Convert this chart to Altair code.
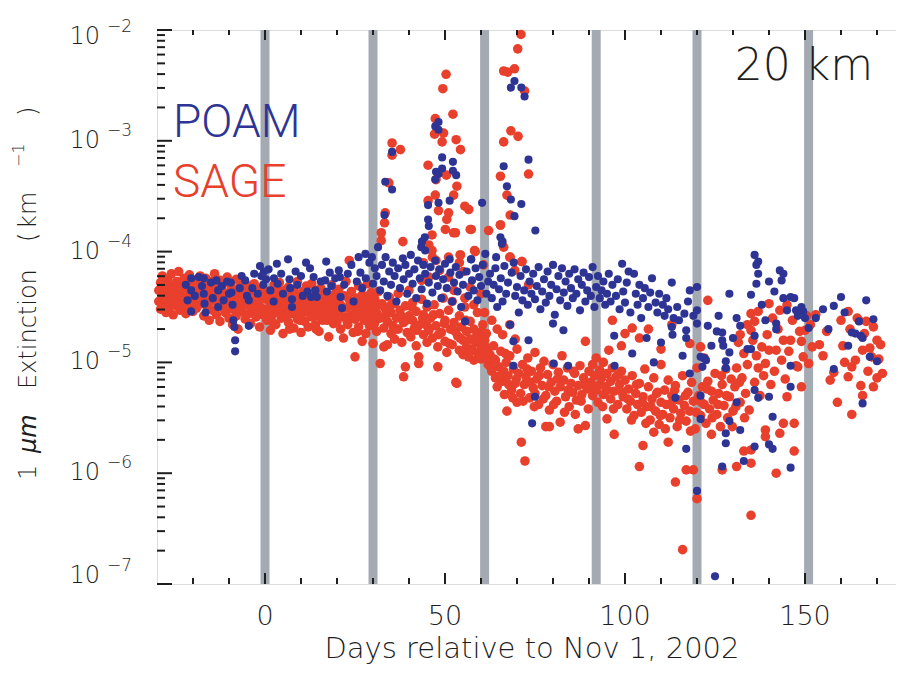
import altair as alt
import pandas as pd

# ---------------- data: (day relative to Nov 1 2002, log10 extinction km^-1) ----------------
SAGE_A = [(-29.5,-4.35),(-29.5,-4.45),(-29,-4.28),(-29,-4.52),(-28.5,-4.40),(-28.5,-4.22),(-28,-4.47),(-28,-4.33),
          (-27.5,-4.55),(-27.5,-4.38),(-27,-4.25),(-27,-4.43),(-26.5,-4.30),(-26.5,-4.50),(-26,-4.36),(-26,-4.20),
          (-25.5,-4.46),(-25.5,-4.57),(-25,-4.32),(-25,-4.41),(-24.5,-4.27),(-24.5,-4.49),(-24,-4.37),(-24,-4.18),
          (-23.5,-4.44),(-23.5,-4.53),(-23,-4.31),(-23,-4.40),(-22.5,-4.24),(-22.5,-4.48),(-22,-4.35),(-22,-4.56),
          (-21.5,-4.42),(-21.5,-4.29),(-21,-4.50),(-21,-4.21),(-20.5,-4.38),(-20.5,-4.46),(-20,-4.33),(-20,-4.54),
          (-19.5,-4.26),(-19.5,-4.43),(-19,-4.36),(-19,-4.51),(-18.5,-4.30),(-18.5,-4.45),(-18,-4.39),(-18,-4.22)]
SAGE_B = [(-17.5,-4.28),(-17.5,-4.47),(-17,-4.36),(-17,-4.58),(-16.5,-4.41),(-16.5,-4.24),(-16,-4.50),(-16,-4.33),
          (-15.5,-4.62),(-15.5,-4.39),(-15,-4.45),(-15,-4.27),(-14.5,-4.53),(-14.5,-4.35),(-14,-4.42),(-14,-4.20),
          (-13.5,-4.57),(-13.5,-4.31),(-13,-4.48),(-13,-4.38),(-12.5,-4.26),(-12.5,-4.63),(-12,-4.44),(-12,-4.34),
          (-11.5,-4.51),(-11.5,-4.29),(-11,-4.40),(-11,-4.55),(-10.5,-4.23),(-10.5,-4.46),(-10,-4.37),(-10,-4.60),
          (-9.5,-4.43),(-9.5,-4.30),(-9,-4.52),(-9,-4.66),(-8.5,-4.35),(-8.5,-4.47),(-8,-4.25),(-8,-4.58),
          (-7.5,-4.41),(-7.5,-4.70),(-7,-4.32),(-7,-4.49),(-6.5,-4.54),(-6.5,-4.38),(-6,-4.44),(-6,-4.27),
          (-5.5,-4.61),(-5.5,-4.36),(-5,-4.48),(-5,-4.40),(-4.5,-4.56),(-4.5,-4.31),(-4,-4.45),(-4,-4.65),
          (-3.5,-4.37),(-3.5,-4.52),(-3,-4.42),(-3,-4.29),(-2.5,-4.59),(-2.5,-4.47),(-2,-4.34),(-2,-4.55),
          (-1.5,-4.44),(-1.5,-4.68),(-1,-4.39),(-1,-4.51),(-0.5,-4.57),(-0.5,-4.33)]
SAGE_C = [(0.5,-4.43),(0.5,-4.62),(1,-4.36),(1,-4.54),(1.5,-4.48),(1.5,-4.71),(2,-4.40),(2,-4.57),(2.5,-4.30),
          (2.5,-4.50),(3,-4.45),(3,-4.66),(3.5,-4.38),(3.5,-4.55),(4,-4.47),(4,-4.28),(4.5,-4.60),(4.5,-4.42),
          (5,-4.52),(5,-4.74),(5.5,-4.35),(5.5,-4.48),(6,-4.58),(6,-4.44),(6.5,-4.32),(6.5,-4.64),(7,-4.50),
          (7,-4.39),(7.5,-4.56),(7.5,-4.46),(8,-4.69),(8,-4.34),(8.5,-4.53),(8.5,-4.43),(9,-4.61),(9,-4.27),
          (9.5,-4.49),(9.5,-4.40),(10,-4.57),(10,-4.73),(10.5,-4.45),(10.5,-4.36),(11,-4.63),(11,-4.51),
          (11.5,-4.42),(11.5,-4.31),(12,-4.55),(12,-4.68),(12.5,-4.47),(12.5,-4.38),(13,-4.59),(13,-4.29),
          (13.5,-4.52),(13.5,-4.44),(14,-4.66),(14,-4.35),(14.5,-4.49),(14.5,-4.58),(15,-4.41),(15,-4.72),
          (15.5,-4.54),(15.5,-4.33),(16,-4.46),(16,-4.62),(16.5,-4.39),(16.5,-4.56),(17,-4.50),(17.7,-4.77),
          (18,-4.43),(18,-4.60),(18.5,-4.30),(18.5,-4.53),(19,-4.65),(19,-4.47),(19.5,-4.38),(19.5,-4.57)]
SAGE_D = [(20,-4.45),(20,-4.63),(20.5,-4.34),(20.5,-4.55),(21,-4.70),(21,-4.48),(21.8,-4.78),(22,-4.40),
          (22,-4.59),(22.5,-4.27),(22.5,-4.51),(23,-4.66),(23.4,-4.08),(23.5,-4.44),(24,-4.57),(24,-4.36),
          (24.5,-4.73),(24.5,-4.49),(25,-4.95),(25,-4.61),(25.5,-4.42),(25.5,-4.53),(26,-4.68),(26,-4.31),
          (26.5,-4.58),(26.5,-4.46),(27,-4.81),(27,-4.39),(27.5,-4.62),(27.5,-4.52),(28,-4.74),(28,-4.44),
          (28.5,-4.56),(28.5,-4.29),(29,-4.67),(29,-4.48),(29.5,-4.60),(29.5,-4.37),(30,-4.83),(30,-4.50),
          (30.5,-4.64),(30.5,-4.43),(31,-4.72),(31,-4.55),(31.5,-4.36),(32,-5.01),(32,-4.60),(32.5,-4.47),
          (33,-4.86),(33,-4.69)]
SAGE_E = [(33.5,-4.52),(34,-4.84),(34,-4.63),(34.5,-4.41),(35,-4.74),(35,-4.55),(35.5,-4.67),(36,-4.47),
          (36,-4.79),(36.5,-4.60),(37,-4.38),(37,-4.70),(37.5,-4.53),(38,-4.82),(38.5,-5.13),(38.5,-4.64),
          (39,-5.04),(39,-4.49),(39.5,-4.73),(40,-4.58),(40,-4.35),(40.5,-4.77),(41,-4.62),(41,-4.46),
          (41.5,-4.69),(42,-4.54),(42,-4.85),(42.7,-4.95),(42.7,-5.01),(43,-4.66),(43.5,-4.43),(44,-4.75),
          (44,-4.57),(44.5,-4.64),(45,-4.82),(45,-4.50),(45.5,-4.71),(46,-4.60)]
SAGE_F = [(46.5,-4.78),(47,-4.48),(47.5,-4.67),(48,-5.04),(48,-4.86),(48.5,-4.56),(49,-4.73),(49.5,-4.42),
          (50,-4.81),(50,-4.62),(50.5,-4.91),(51,-4.53),(51.5,-4.70),(52,-4.84),(52,-4.45),(52.5,-4.64),
          (53,-5.18),(53.3,-5.19),(53.5,-4.76),(54,-4.89),(54,-4.58),(54.5,-4.68),(55,-4.80),(55,-4.93),
          (55.5,-4.50),(56,-4.72),(56,-4.86),(56.5,-4.95),(57,-4.63),(57,-4.79),(57.5,-4.88),(58,-4.70),
          (58,-4.98),(58.5,-4.82),(59,-4.55),(59,-4.91),(59.5,-4.76),(60,-4.85),(60,-4.97),(60.5,-4.66),
          (61,-4.80),(61,-4.92),(61.5,-4.74),(62,-4.87),(62,-5.02)]
SAGE_G = [(62.5,-4.93),(63,-5.08),(63,-4.62),(63.5,-4.85),(64,-5.14),(64,-4.98),(64.5,-5.22),(64.5,-4.70),
          (65,-5.04),(65.5,-4.90),(66,-5.17),(66,-4.75),(66.3,-5.08),(66.5,-5.29),(67,-5.00),(67.2,-5.44),
          (67.5,-5.12),(68,-4.94),(68,-4.66),(68.5,-5.25),(69,-5.06),(69.5,-5.19),(69.5,-4.79),(70,-5.36),
          (70,-4.88),(70.5,-5.10),(71,-5.28),(71.2,-5.72),(71.5,-5.02),(72,-5.20),(72.2,-5.89),(72.5,-5.13),
          (73,-4.96),(73.5,-5.32),(74,-5.08),(74.5,-5.23),(75,-5.28),(75,-4.91),(75.5,-5.15),(76,-5.38),
          (76.5,-5.05),(77,-5.21),(77.5,-4.99),(78,-5.58),(78,-5.30),(78.5,-5.11),(79,-5.43),(79,-5.58),
          (79.5,-5.18),(80,-5.02),(80.5,-5.26),(81,-5.35),(81.5,-5.09),(82,-5.54),(82,-5.22),(82.5,-4.94),
          (83,-5.16),(83.5,-5.31),(84,-5.05),(84.5,-5.40),(85,-5.19),(85.5,-5.27),(86,-5.10),(86.5,-5.34),
          (87,-5.60),(87,-5.21),(87.5,-5.03),(88,-5.29),(88.5,-5.14),(89,-5.57),(89,-4.81),(89.5,-5.24),
          (90,-5.08)]
SAGE_H = [(90.5,-5.18),(91,-5.30),(91,-5.02),(91.5,-5.12),(92,-5.25),(92,-4.96),(92.5,-5.36),(93,-5.07),
          (93,-5.20),(93.5,-5.14),(94,-5.29),(94,-5.00),(94.5,-5.22),(95,-5.51),(95,-5.10),(95.5,-4.89),
          (96,-5.33),(96,-5.17),(96.5,-5.05),(96.5,-4.62),(97,-5.65),(97,-5.26),(97.5,-5.13),(98,-5.38),
          (98.5,-5.20),(99,-5.08),(99,-4.85),(99.5,-5.31),(100,-4.74),(100,-5.16)]
SAGE_I = [(100.5,-5.42),(101,-5.24),(101.5,-5.35),(102,-4.69),(102,-5.12),(102.5,-5.48),(103,-5.28),
          (103.5,-5.38),(104,-5.94),(104,-5.19),(104,-4.78),(104.5,-5.45),(105,-5.75),(105,-5.31),(105.5,-5.06),
          (106,-5.40),(106.5,-5.22),(106.5,-4.70),(107,-5.52),(107.5,-5.33),(108,-5.63),(108,-5.14),
          (108.5,-5.44),(109,-5.27),(109.5,-5.56),(110,-5.36),(110,-5.02),(110,-4.88),(110.5,-5.47),(111,-5.25),
          (111.5,-5.38),(112,-5.72),(112,-5.16),(112.5,-5.50),(113,-5.30),(113,-4.66),(113.5,-5.42),(114,-6.08),
          (114,-5.21),(114.5,-5.58),(115,-5.34),(115.5,-5.46),(116,-6.69),(116,-5.12),(116.5,-5.39),(117,-5.97),
          (117,-5.53),(117.5,-5.27),(118,-4.83),(118,-5.44),(118.5,-5.18),(119,-5.97),(119,-5.35),(119.5,-5.60),
          (120,-6.23),(120,-5.05),(120.5,-5.30),(121,-4.86),(121,-5.48),(121.5,-5.22),(122,-5.38),(122,-4.96),
          (122.5,-5.55),(123,-4.44),(123,-5.17),(123.5,-5.42),(124,-5.26),(124,-5.65),(124.5,-5.34),(125,-5.10),
          (125.5,-5.47),(126,-5.28),(126.5,-5.58),(127,-5.97),(127,-5.20),(127.5,-5.39),(128,-5.06),(128.5,-5.50),
          (129,-5.31),(129.5,-5.15),(130,-5.44)]
SAGE_J = [(130.5,-5.22),(131,-5.94),(131,-5.05),(131.5,-4.82),(132,-4.75),(132,-5.36),(132.5,-5.14),(133,-5.80),
          (133,-4.92),(133.5,-5.28),(134,-4.66),(134,-5.02),(134.5,-5.43),(135,-4.56),(135,-4.71),(135,-5.79),
          (135,-5.91),(135,-6.38),(135.5,-4.80),(136,-4.63),(136,-5.18),(136.5,-4.94),(137,-4.54),(137,-5.05),
          (137.5,-5.30),(138,-4.86),(138.5,-5.12),(139,-5.01),(139,-5.61),(139,-5.67),(139.5,-4.75),(140,-4.47),
          (140,-4.89),(140.5,-5.20),(141,-4.60),(141.5,-5.08),(142,-4.89),(142,-6.00),(142.5,-4.70),(143,-4.53),
          (143,-5.64),(143.5,-4.98),(144,-4.80),(144,-5.55),(144.5,-5.15),(145,-4.48),(145,-5.31),(145.5,-4.90),
          (146,-4.80),(146.5,-4.62),(147,-5.55),(147,-5.80),(147.5,-5.03),(148,-5.04),(148.5,-4.72),(149,-4.81),
          (149,-5.22),(149.5,-4.95),(150,-4.71),(150.5,-4.58)]
SAGE_K = [(151,-5.01),(151.5,-4.66),(152,-4.86),(153,-4.57),(154,-4.84),(155,-4.94),(156,-4.72),(157,-5.16),
          (158,-5.09),(159,-5.36),(160,-4.62),(160.5,-4.85),(161,-5.00),(162,-4.54),(162,-5.13),(162.5,-4.70),
          (163,-5.04),(163,-5.47),(164,-4.98),(164.5,-4.60),(165,-4.62),(165.5,-5.21),(166,-5.30),(166,-4.89),
          (166.5,-4.74),(167,-4.63),(167.5,-5.08),(168,-4.87),(168.5,-4.95),(169,-4.68),(169,-5.22),(170,-5.14),
          (170,-4.80),(170.5,-4.97),(171,-4.84),(171.5,-5.10)]
SAGE_FILL = [(62.8,-5.05),(63.7,-4.97),(65.2,-5.12),(66.8,-4.92),(67.7,-5.20),(68.8,-5.32),(69.8,-5.15),
             (71.7,-5.35),(72.8,-5.06),(73.7,-5.18),(74.8,-5.40),(76.2,-5.12),(77.3,-5.33),(78.8,-5.22),
             (80.2,-5.38),(81.2,-5.15),(83.2,-5.45),(84.2,-5.25),(85.7,-5.08),(86.2,-5.47),(87.8,-5.35),
             (88.7,-5.20),(89.8,-5.42),(91.3,-5.22),(92.8,-5.10),(93.8,-5.40),(95.2,-5.25),(96.8,-5.42),
             (98.2,-5.11),(99.2,-5.27),(100.8,-5.33),(101.8,-5.52),(103.2,-5.20),(104.8,-5.36),(105.8,-5.55),
             (107.2,-5.40),(108.8,-5.28),(109.8,-5.48),(111.2,-5.60),(112.8,-5.37),(113.8,-5.25),(115.2,-5.52),
             (116.8,-5.30),(118.2,-5.62),(119.8,-5.45),(121.2,-5.36),(122.8,-5.24),(124.2,-5.50),(125.8,-5.38),
             (126.8,-5.12),(128.2,-5.30),(129.8,-5.58),(130.8,-5.40),(131.8,-5.18),(133.2,-5.50),
             (0.8,-4.52),(2.2,-4.64),(3.8,-4.35),(5.2,-4.58),(6.8,-4.70),(8.2,-4.47),(9.8,-4.62),(11.2,-4.37),
             (12.8,-4.51),(14.2,-4.70),(15.8,-4.45),(17.2,-4.62),(18.8,-4.40),(20.2,-4.52),(22.8,-4.63),
             (24.2,-4.45),(25.8,-4.72),(27.2,-4.56),(28.8,-4.40),(30.2,-4.67),(31.8,-4.48),(33.2,-4.58),
             (34.8,-4.49),(36.2,-4.70),(37.8,-4.58),(39.2,-4.62),(40.8,-4.50),(42.2,-4.71),(43.8,-4.60),
             (45.2,-4.68),(46.8,-4.57),(48.2,-4.75),(49.8,-4.65),(51.2,-4.83),(52.8,-4.72),(54.2,-4.78),
             (55.8,-4.62),(57.2,-4.90),(58.8,-4.76),(60.2,-4.72),(61.8,-4.95)]
SAGE_SPIKE = [(71.1,-2.04),(70.2,-2.17),(66.3,-2.37),(67.4,-2.38),(69.3,-2.35),(72.1,-2.55),(68.3,-2.91),
              (70.3,-2.96),(66.3,-3.01),(73.2,-3.30),(65.4,-3.32),(67.2,-3.49),(68.1,-3.67),(65.4,-3.76),
              (66.3,-3.96),(68,-4.05),(71.4,-4.09),(50.3,-2.40),(49.4,-2.53),(52.2,-2.76),(47.3,-2.80),
              (47.1,-2.94),(49.6,-2.93),(53.1,-2.99),(54.3,-3.08),(49.2,-3.01),(45.3,-3.22),(48.1,-3.29),
              (50.4,-3.31),(47.5,-3.35),(53.3,-3.41),(52.4,-3.49),(47.3,-3.49),(45.3,-3.54),(55.5,-3.59),
              (56.6,-3.62),(48.2,-3.63),(51,-3.65),(50.5,-3.71),(57.3,-3.80),(62.1,-3.81),(50.1,-3.80),
              (52.4,-3.83),(46.4,-3.85),(45.5,-3.94),(46.4,-3.99),(58.2,-3.99),(38.3,-3.91),(35.3,-3.02),
              (37.6,-3.08),(35.3,-3.13),(34.4,-3.38),(33.4,-3.65),(33.2,-3.74),(32.3,-3.83),(32.3,-3.90),
              (54.3,-4.03),(51,-4.05),(52.9,-3.83),(57,-3.80),(65.4,-3.76),(54.2,-4.03),(58.4,-4.00),
              (60.7,-4.12),(68.1,-4.05),(71.3,-4.09),(69.4,-4.17),(73.2,-4.30)]
SAGE_TRANS = [(44,-4.10),(43.5,-4.26),(45.5,-4.23),(46.5,-4.05),(47.5,-4.08),(48.5,-4.17),(51,-4.23),
              (54,-4.10),(55,-4.18),(57,-4.32),(52.5,-4.35),(55.5,-4.42),(58,-4.48),(60,-4.38),(61,-4.55)]

POAM_A = [(-22,-4.30),(-21.5,-4.44),(-20.5,-4.24),(-20.5,-4.35),(-20.5,-4.54),(-19.5,-4.40),(-18.4,-4.23),
          (-17.5,-4.31),(-17,-4.24),(-17,-4.38),(-16.8,-4.47),(-16.5,-4.55),(-15,-4.28),(-14.5,-4.42),
          (-13.5,-4.26),(-13,-4.35),(-13,-4.50),(-12,-4.31),(-11.5,-4.44),(-10.5,-4.27),(-10,-4.38),(-9.5,-4.28),
          (-9.3,-4.37),(-9,-4.48),(-8.8,-4.62),(-8.5,-4.68),(-8.3,-4.80),(-8.3,-4.90),(-7,-4.33),(-6.5,-4.22),
          (-5.5,-4.26),(-5,-4.40),(-4.5,-4.44),(-4.5,-4.67),(-3.5,-4.33),(-3,-4.20),(-2,-4.38),(-1.4,-4.13),
          (-1,-4.22),(-0.3,-4.18),(-0.5,-4.30),(0.3,-4.25)]
POAM_B = [(1,-4.16),(1.5,-4.35),(2.4,-4.45),(2.5,-4.24),(3.3,-4.11),(3.5,-4.29),(4.5,-4.20),(5,-4.38),
          (6.4,-4.07),(6.8,-4.25),(7,-4.33),(7.5,-4.43),(7.5,-4.50),(8.5,-4.18),(9,-4.30),(10,-4.22),
          (10.5,-4.40),(11.4,-4.10),(11.8,-4.36),(12.5,-4.15),(12.8,-4.41),(13.5,-4.23),(14,-4.35),(14.4,-4.41),
          (15.5,-4.27),(16.7,-4.26),(17,-4.09),(17.2,-4.36),(18,-4.19),(18.5,-4.31),(19.5,-4.24),(20.5,-4.17),
          (20.8,-4.23),(21,-4.41),(21.4,-4.51),(22,-4.30),(23,-4.20),(24,-4.12),(24.6,-4.45),(25.5,-4.27),
          (26,-4.05),(26.5,-4.19),(27,-4.33),(27.9,-4.02),(28,-4.24),(29,-4.10),(29.7,-4.05),(30,-4.29),
          (30.5,-4.15)]
POAM_C = [(31,-4.22),(31.4,-3.96),(32,-4.35),(32.5,-4.12),(33,-4.27),(33.5,-4.05),(34,-4.40),(34.5,-4.18),
          (35,-4.30),(35.5,-4.10),(36,-4.22),(36.5,-4.45),(37,-4.15),(37.5,-4.33),(38.3,-4.06),(38.5,-4.25),
          (39,-4.12),(39.5,-4.38),(40,-4.20),(40.5,-4.03),(41,-4.29),(41.5,-4.16),(42,-4.42),(42.5,-4.08),
          (43,-4.24),(43.5,-4.34),(44,-4.12),(44.5,-4.20),(45,-4.47),(45.5,-4.28),(46,-4.14),(46.5,-4.37),
          (47.3,-4.08),(47.5,-4.22),(48,-4.31),(48.5,-4.16),(49,-4.42),(49.5,-4.25),(50,-4.11),(50.5,-4.33),
          (51.3,-4.07),(51.5,-4.19),(52,-4.45),(52.5,-4.28),(53,-4.14),(53.5,-4.36),(54,-4.21),(54.5,-4.50),
          (55,-4.30),(55.6,-4.63),(56,-4.18),(56.5,-4.40),(57.2,-4.07),(57.5,-4.26),(58,-4.35),(58.5,-4.15),
          (59,-4.44),(59.5,-4.23),(60,-4.31),(60.5,-4.12),(61.2,-4.02),(61.5,-4.38),(62,-4.27)]
POAM_D = [(62.5,-4.20),(63,-4.42),(63.5,-4.30),(64,-4.15),(64.5,-4.50),(65,-4.34),(65.5,-4.24),(66,-4.45),
          (66.5,-4.13),(67,-4.38),(67.5,-4.28),(68.1,-4.66),(68.5,-4.19),(69,-4.81),(69,-5.03),(69.5,-4.40),
          (70,-4.32),(70.5,-4.55),(71,-4.22),(71.5,-4.44),(72,-4.35),(72.5,-4.16),(73,-4.48),(73.2,-4.80),
          (73.5,-4.27),(74,-4.38),(74.2,-5.55),(74.5,-4.20),(75,-5.31),(75,-4.43),(75.5,-4.31),(76,-4.14),
          (76.5,-4.52),(77,-4.36),(77.5,-4.25),(78,-4.46),(78.5,-4.18),(79,-4.40),(79.5,-4.30),(80,-4.12),
          (80.2,-5.01),(80.5,-4.57),(80,-4.65),(81,-4.34),(81.5,-4.22),(82,-4.44),(82.5,-4.15),(82.9,-4.71),
          (83,-4.37),(83.5,-4.27),(84,-4.49),(84.2,-5.03),(84.5,-4.20),(85,-4.33),(85.5,-4.42),(86,-4.16),
          (86.5,-4.38),(87,-4.25),(87.5,-4.53),(88,-4.30),(88.5,-4.19),(89,-4.45),(89.5,-4.35),(90,-4.23),
          (90.5,-4.40),(91,-4.14),(91.5,-4.50),(92,-4.32)]
POAM_E = [(92.5,-4.22),(93,-4.42),(93.5,-4.35),(94,-4.27),(94.5,-4.48),(95,-4.38),(95.5,-4.20),(96,-4.45),
          (96.5,-4.30),(97,-4.76),(97.1,-5.03),(97.5,-4.40),(98,-4.25),(98.5,-4.52),(99.2,-4.11),(99.5,-4.36),
          (100,-4.46),(100.5,-4.28),(101,-4.18),(101.5,-4.55),(102,-4.92),(102.5,-4.20),(103,-4.38),(103.5,-4.48),
          (104,-4.30),(104.5,-4.60),(105,-4.42),(105.5,-4.33),(106,-4.78),(106.5,-4.50),(107,-4.37),(107.5,-4.24),
          (108,-5.00),(108.5,-4.46),(109,-4.55),(109.5,-4.38),(110,-4.82),(110.5,-4.48),(111,-4.58),(111.5,-4.42),
          (112,-4.52),(113,-4.28),(113,-4.68),(113.2,-4.75),(113.5,-4.60),(114,-5.32),(114.5,-4.50),(115,-4.62),
          (116,-4.94),(116.5,-4.56),(117,-4.71),(117,-4.78),(117,-5.78),(117.5,-4.45),(118,-4.35),(118,-5.10),
          (119,-4.58),(120,-4.32),(120,-4.53),(120,-4.65),(120,-6.16)]
POAM_F = [(121,-4.95),(121,-5.30),(121,-5.51),(122,-4.96),(122.5,-4.98),(121.5,-5.04),(123,-4.67),(124,-4.85),
          (125,-6.93),(125.5,-4.72),(126,-4.58),(127,-4.73),(127,-4.80),(127,-5.94),(127.3,-4.85),(128,-4.99),
          (128,-5.05),(128,-5.64),(128,-5.73),(129,-4.91),(129,-4.38),(129,-5.53),(130,-4.78),(131,-4.60),
          (131,-5.36),(132,-4.67),(132,-5.61),(133,-5.89),(134,-4.88),(135,-4.39),(135,-4.88),(136,-4.76),
          (136,-5.25),(136,-5.76),(136,-4.03),(136.5,-4.12),(136.5,-4.29),(137,-4.20),(137,-4.09),(137,-5.32),
          (138,-4.48),(139,-4.62),(140,-4.27),(140,-5.31),(140,-5.74),(141,-5.49),(141,-5.78),(141.5,-4.36),
          (142,-4.65),(142,-4.70),(143,-4.17),(143.5,-4.26),(144,-4.20),(144,-4.42),(145,-4.53),(146,-4.41),
          (146,-5.03),(146,-5.22),(146,-5.95),(147,-4.42),(147.5,-4.53),(148,-4.58),(149,-4.50),(149.5,-4.54),
          (150,-4.60),(151,-4.69)]
POAM_G = [(155,-4.52),(158,-4.49),(160,-4.41),(163,-4.73),(164,-4.74),(165,-4.63),(165.5,-4.76),(166,-4.78),
          (167,-4.44),(168,-4.95),(169,-4.61),(170,-4.99),(158,-5.06),(166,-5.37),(153,-4.60),(156.5,-4.70),
          (161,-4.55),(162,-4.85)]
POAM_SPIKE = [(69.3,-2.46),(68.3,-2.52),(71.2,-2.52),(72.1,-2.60),(73.2,-3.17),(66.3,-3.23),(67.2,-3.41),
              (68.3,-3.53),(71.2,-3.57),(69.3,-3.68),(75.1,-3.81),(60.3,-3.56),(65.4,-3.87),(66,-3.91),
              (48.2,-2.83),(47.3,-2.87),(48.2,-2.90),(49.2,-3.15),(52.2,-3.19),(53.1,-3.31),(52.2,-3.27),
              (49.2,-3.25),(48.2,-3.30),(47.3,-3.35),(47.5,-3.28),(35.3,-3.10),(33.4,-3.37),(35.3,-3.44),
              (45.3,-3.58),(48.2,-3.56),(51.3,-3.54),(33.2,-3.67),(45.3,-3.71),(45.5,-3.77),(44.4,-3.87),
              (43.6,-3.91),(43.4,-3.96),(44.5,-3.99),(65.8,-3.93),(69.1,-4.10),(64.2,-4.05),(57.3,-4.07)]

MONTH_STARTS = [0, 30, 61, 92, 120, 151]
X_MAJOR = [0, 50, 100, 150]
X_MINOR = [-20, -10, 10, 20, 30, 40, 60, 70, 80, 90, 110, 120, 130, 140, 160, 170]
Y_EXP = [-2, -3, -4, -5, -6, -7]
Y_MULT = [2, 3, 4, 5, 6, 7, 8, 9]

# ---------------- frames ----------------
sage = pd.DataFrame(SAGE_A + SAGE_B + SAGE_C + SAGE_D + SAGE_E + SAGE_F + SAGE_G + SAGE_H
                    + SAGE_I + SAGE_J + SAGE_K + SAGE_FILL + SAGE_SPIKE + SAGE_TRANS, columns=["day", "lg"])
poam = pd.DataFrame(POAM_A + POAM_B + POAM_C + POAM_D + POAM_E + POAM_F + POAM_G + POAM_SPIKE,
                    columns=["day", "lg"])
months = pd.DataFrame({"d": MONTH_STARTS})
xmaj = pd.DataFrame({"d": X_MAJOR})
xmin = pd.DataFrame({"d": X_MINOR})
yexp = pd.DataFrame({"e": Y_EXP})
ymaj = pd.DataFrame({"v": [10.0 ** e for e in Y_EXP]})
ymin = pd.DataFrame({"v": [m * 10.0 ** e for e in Y_EXP[1:] for m in Y_MULT]})

W, H = 756, 554
FONT = "DejaVu Sans"
FW = 200
INK = "#1e1e1e"
BLUE = "#2E3494"
RED = "#E8402C"
xs = alt.Scale(domain=[-30, 180], nice=False, zero=False)
ys = alt.Scale(type="log", domain=[1e-7, 1e-2], nice=False)

X = lambda f: alt.X(f, scale=xs, axis=None)
Y = lambda f: alt.Y(f, scale=ys, axis=None)

bars = alt.Chart(months).mark_rule(strokeWidth=9, color="#A4AAB1").encode(x=X("d:Q"))

pts_sage = (alt.Chart(sage).transform_calculate(ext="pow(10, datum.lg)")
            .mark_circle(size=92, color=RED, opacity=1).encode(x=X("day:Q"), y=Y("ext:Q")))
pts_poam = (alt.Chart(poam).transform_calculate(ext="pow(10, datum.lg)")
            .mark_circle(size=66, color=BLUE, opacity=1).encode(x=X("day:Q"), y=Y("ext:Q")))

tk = dict(strokeWidth=2, color=INK)
ticks = [
    alt.Chart(ymaj).mark_rule(**tk).encode(y=Y("v:Q"), x=alt.value(0), x2=alt.value(15)),
    alt.Chart(ymin).mark_rule(**tk).encode(y=Y("v:Q"), x=alt.value(0), x2=alt.value(8)),
    alt.Chart(ymaj).mark_rule(**tk).encode(y=Y("v:Q"), x=alt.value(W), x2=alt.value(W - 15)),
    alt.Chart(ymin).mark_rule(**tk).encode(y=Y("v:Q"), x=alt.value(W), x2=alt.value(W - 8)),
    alt.Chart(xmaj).mark_rule(**tk).encode(x=X("d:Q"), y=alt.value(H), y2=alt.value(H - 11)),
    alt.Chart(xmin).mark_rule(**tk).encode(x=X("d:Q"), y=alt.value(H), y2=alt.value(H - 6)),
    alt.Chart(xmaj).mark_rule(**tk).encode(x=X("d:Q"), y=alt.value(0), y2=alt.value(10)),
    alt.Chart(xmin).mark_rule(**tk).encode(x=X("d:Q"), y=alt.value(0), y2=alt.value(5)),
]


def ylabels(expr, dy):
    base = (alt.Chart(yexp).transform_filter(expr)
            .transform_calculate(v="pow(10, datum.e)", lab="'\u2212' + (-datum.e)"))
    ten = base.mark_text(text="10", align="right", baseline="middle", font=FONT, fontWeight=FW,
                         fontSize=24, color=INK, dy=dy).encode(x=alt.value(-57), y=Y("v:Q"))
    ex = base.mark_text(align="left", baseline="middle", font=FONT, fontWeight=FW, fontSize=17,
                        color=INK, dy=dy - 10).encode(x=alt.value(-50), y=Y("v:Q"), text="lab:N")
    return [ten, ex]


ylabs = (ylabels("datum.e == -2", 7) + ylabels("datum.e < -2 && datum.e > -7", 0)
         + ylabels("datum.e == -7", -8))

xlabs = (alt.Chart(xmaj).transform_calculate(lab="'' + datum.d")
         .mark_text(baseline="middle", font=FONT, fontWeight=FW, fontSize=27, color=INK)
         .encode(x=X("d:Q"), y=alt.value(H + 33), text="lab:N"))


def txt(s, x, y, **kw):
    opts = dict(font=FONT, fontWeight=FW, color=INK)
    opts.update(kw)
    return alt.Chart(xmaj).transform_filter("datum.d == 0").mark_text(text=s, **opts).encode(
        x=alt.value(x), y=alt.value(y))


rot = dict(angle=270, align="left", baseline="middle")
annots = [
    txt("Days relative to Nov 1, 2002", 375, 628, fontSize=29, baseline="alphabetic", align="center"),
    txt("1", -128, 450, fontSize=24, **rot),
    txt("\u03bcm", -128, 423, fontSize=24, fontStyle="italic", **rot),
    txt("Extinction", -128, 359, fontSize=24, **rot),
    txt("(", -128, 212, fontSize=24, **rot),
    txt("km", -128, 199, fontSize=24, **rot),
    txt("\u22121", -138, 137, fontSize=16, **rot),
    txt(")", -128, 86, fontSize=24, **rot),
    txt("20 km", 716, 50, fontSize=44, align="right", baseline="alphabetic"),
    txt("POAM", 16, 107, fontSize=46, align="left", baseline="alphabetic", color=BLUE,
        font="Roboto", fontWeight=300),
    txt("SAGE", 16, 167, fontSize=46, align="left", baseline="alphabetic", color=RED,
        font="Roboto", fontWeight=300),
]

chart = (alt.layer(bars, pts_sage, pts_poam, *ticks, *ylabs, xlabs, *annots)
         .properties(width=W, height=H, autosize=alt.AutoSizeParams(type="none"),
                     padding={"left": 149, "top": 22, "right": -17, "bottom": 82})
         .configure_view(stroke=INK, strokeWidth=2)
         .configure(background="white"))

chart.save("out.html", embed_options={"renderer": "svg", "actions": False})
